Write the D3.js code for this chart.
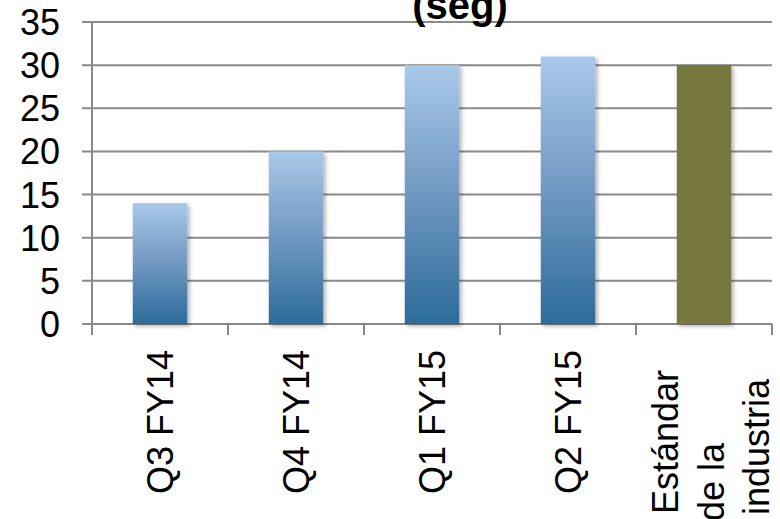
<!DOCTYPE html>
<html>
<head>
<meta charset="utf-8">
<script src="https://cdn.jsdelivr.net/npm/d3@7"></script>
<style>
  body { margin: 0; background: #fff; }
  text { font-family: "Liberation Sans", Arial, sans-serif; fill: #000; }
</style>
</head>
<body>
<script>
// chart data
var categories = ["Q3 FY14", "Q4 FY14", "Q1 FY15", "Q2 FY15", "Estándar de la industria"];
var labelLines = [["Q3 FY14"], ["Q4 FY14"], ["Q1 FY15"], ["Q2 FY15"], ["Estándar", "de la", "industria"]];
var values = [14, 20, 30, 31, 30];
var yTicks = [0, 5, 10, 15, 20, 25, 30, 35];

var w = 780, h = 519;
var mLeft = 92, mRight = 772, mTop = 22, mBottom = 324;

var svg = d3.select("body").append("svg")
  .attr("width", w)
  .attr("height", h);

var defs = svg.append("defs");

// blue gradient for each bar, light on top
var grad = defs.append("linearGradient")
  .attr("id", "blueGrad")
  .attr("x1", 0).attr("y1", 0).attr("x2", 0).attr("y2", 1);
grad.append("stop").attr("offset", "0%").attr("stop-color", "#a9c9e9");
grad.append("stop").attr("offset", "50%").attr("stop-color", "#7098c2");
grad.append("stop").attr("offset", "100%").attr("stop-color", "#2c6b9a");

var shadow = defs.append("filter").attr("id", "shadow")
  .attr("x", "-20%").attr("y", "-20%").attr("width", "150%").attr("height", "150%");
shadow.append("feDropShadow")
  .attr("dx", 2).attr("dy", 2).attr("stdDeviation", 2)
  .attr("flood-color", "#000").attr("flood-opacity", 0.35);

var x = d3.scaleBand()
  .domain(categories)
  .range([mLeft, mRight])
  .paddingInner(0.6)
  .paddingOuter(0.3);

// category boundaries
var xEdge = d3.scaleLinear().domain([0, categories.length]).range([mLeft, mRight]);

var y = d3.scaleLinear().domain([0, 35]).range([mBottom, mTop]);

// horizontal gridlines
svg.append("g").selectAll("line")
  .data(yTicks)
  .enter().append("line")
  .attr("x1", mLeft - 10)
  .attr("x2", mRight)
  .attr("y1", function(d) { return y(d); })
  .attr("y2", function(d) { return y(d); })
  .attr("stroke", "#8a8a8a")
  .attr("stroke-width", 2);

// y axis line
svg.append("line")
  .attr("x1", mLeft).attr("x2", mLeft)
  .attr("y1", y(35)).attr("y2", mBottom)
  .attr("stroke", "#8a8a8a")
  .attr("stroke-width", 2);

// x axis ticks at category edges
svg.append("g").selectAll("line")
  .data(d3.range(categories.length + 1))
  .enter().append("line")
  .attr("x1", function(d) { return xEdge(d); })
  .attr("x2", function(d) { return xEdge(d); })
  .attr("y1", mBottom)
  .attr("y2", mBottom + 11)
  .attr("stroke", "#8a8a8a")
  .attr("stroke-width", 2);

// y tick labels
svg.append("g").selectAll("text")
  .data(yTicks)
  .enter().append("text")
  .attr("x", 60)
  .attr("y", function(d) { return y(d); })
  .attr("dy", "0.36em")
  .attr("text-anchor", "end")
  .style("font-size", "36px")
  .text(function(d) { return d; });

// bars
svg.append("g").selectAll("rect")
  .data(values)
  .enter().append("rect")
  .attr("x", function(d, i) { return x(categories[i]); })
  .attr("width", x.bandwidth())
  .attr("y", function(d) { return y(d); })
  .attr("height", function(d) { return mBottom - y(d); })
  .attr("fill", function(d, i) { return i === 4 ? "#77783d" : "url(#blueGrad)"; })
  .attr("filter", "url(#shadow)");

// x labels, rotated
var lab = svg.append("g").selectAll("g")
  .data(labelLines)
  .enter().append("g")
  .attr("transform", function(d, i) {
    var cx = x(categories[i]) + x.bandwidth() / 2;
    return "translate(" + cx + ",0) rotate(-90)";
  });

lab.each(function(lines) {
  var g = d3.select(this);
  if (lines.length === 1) {
    g.append("text")
      .attr("x", -350)
      .attr("y", 0)
      .attr("dy", "0.36em")
      .attr("text-anchor", "end")
      .style("font-size", "36px")
      .text(lines[0]);
  } else {
    // wrapped label runs up from the bottom edge
    var starts = [-514, -521, -515];
    lines.forEach(function(t, j) {
      g.append("text")
        .attr("x", starts[j])
        .attr("y", 19.5 + (j - 1) * 45.5)
        .attr("text-anchor", "start")
        .style("font-size", "36px")
        .text(t);
    });
  }
});

// title (its first line is off the top of the picture)
svg.append("text")
  .attr("x", 460)
  .attr("y", 19)
  .attr("text-anchor", "middle")
  .style("font-size", "40px")
  .style("font-weight", "bold")
  .text("(seg)");
</script>
</body>
</html>
